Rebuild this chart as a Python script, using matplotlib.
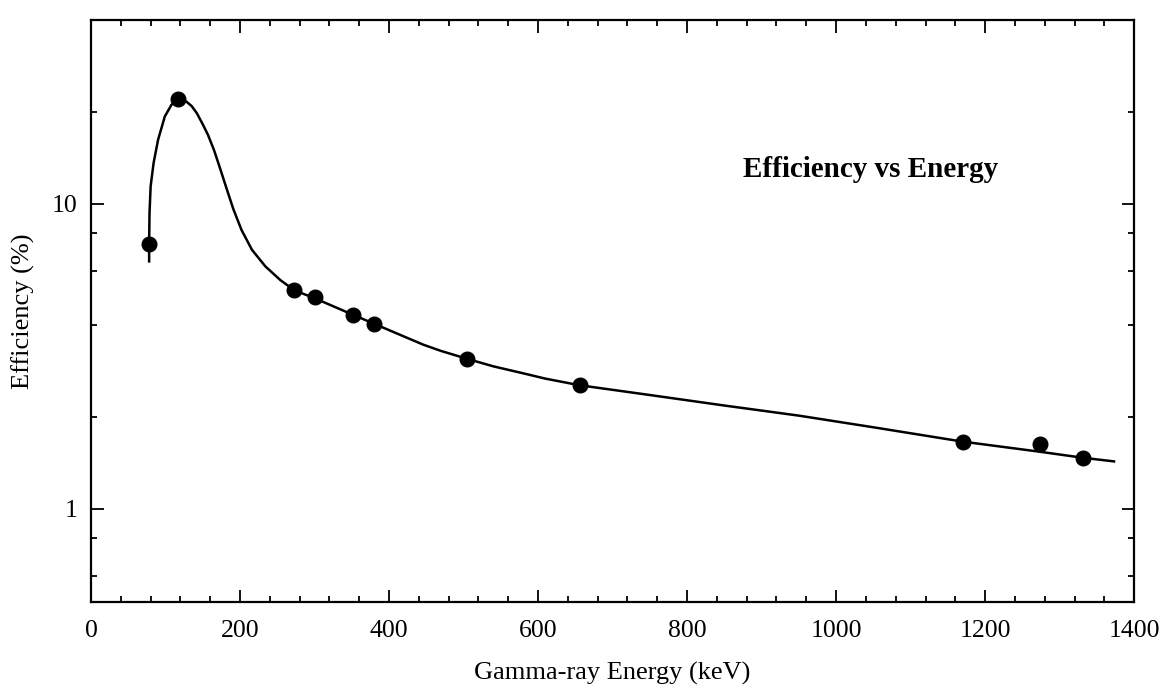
import matplotlib
matplotlib.use("Agg")
import matplotlib.pyplot as plt
from matplotlib.ticker import FixedLocator, NullFormatter

plt.rcParams['font.family'] = ['Liberation Serif', 'DejaVu Serif']

# measured points (energy keV, efficiency %)
point_energy = [78, 117, 273, 300, 352, 380, 505, 656, 1170, 1273, 1331]
point_eff = [7.4, 22.1, 5.22, 4.96, 4.32, 4.04, 3.10, 2.54, 1.66, 1.63, 1.47]

# fitted curve
curve_energy = [78, 78, 78.5, 80, 84, 90, 99, 108, 117, 128, 135, 142, 150,
                157, 165, 173, 182, 191, 202, 216, 234, 254, 273, 300, 352,
                380, 410, 446, 470, 505, 540, 580, 610, 656, 750, 850, 950,
                1050, 1170, 1272, 1331, 1373]
curve_eff = [6.47, 7.4, 9.3, 11.4, 13.6, 16.2, 19.3, 21.1, 22.1, 21.6, 20.9,
             19.8, 18.2, 16.8, 15.0, 13.1, 11.2, 9.6, 8.2, 7.06, 6.23, 5.62,
             5.2, 4.90, 4.32, 4.04, 3.76, 3.45, 3.29, 3.10, 2.93, 2.78,
             2.67, 2.54, 2.36, 2.18, 2.02, 1.85, 1.66, 1.54, 1.47, 1.43]

x_major = [0, 200, 400, 600, 800, 1000, 1200, 1400]
x_minor = list(range(0, 1401, 40))
y_major = [1, 10]
y_minor = [0.6, 0.8, 2, 4, 6, 8, 20]

fig = plt.figure(figsize=(11.76, 6.94), dpi=100)
ax = fig.add_axes([0.0774, 0.1326, 0.887, 0.8386])

ax.plot(curve_energy, curve_eff, color='black', lw=1.8, zorder=2)
ax.plot(point_energy, point_eff, 'o', color='black', ms=10.5, zorder=3)

ax.set_yscale('log')
ax.set_xlim(0, 1400)
ax.set_ylim(0.495, 40)

ax.xaxis.set_major_locator(FixedLocator(x_major))
ax.xaxis.set_minor_locator(FixedLocator(x_minor))
ax.set_xticklabels([str(v) for v in x_major])
ax.yaxis.set_major_locator(FixedLocator(y_major))
ax.yaxis.set_minor_locator(FixedLocator(y_minor))
ax.yaxis.set_minor_formatter(NullFormatter())
ax.set_yticklabels(['1', '10'])

ax.tick_params(which='both', direction='in', top=True, right=True,
               width=1.3, labelsize=18.5)
ax.tick_params(which='major', length=9)
ax.tick_params(which='minor', length=4.5)
ax.tick_params(axis='x', pad=13)
ax.tick_params(axis='y', pad=10)

for s in ax.spines.values():
    s.set_linewidth(1.6)

ax.set_xlabel('Gamma-ray Energy (keV)', fontsize=19, labelpad=14)
ax.set_ylabel('Efficiency (%)', fontsize=19, labelpad=12)

ax.text(0.625, 0.730, 'Efficiency vs Energy', transform=ax.transAxes,
        fontsize=21, fontweight='bold', va='baseline', ha='left')

fig.savefig('out.png', dpi=100)
